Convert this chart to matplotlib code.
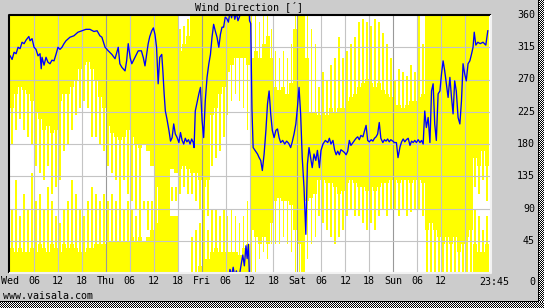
import numpy as np
import matplotlib
matplotlib.use("Agg")
import matplotlib.pyplot as plt
import matplotlib.transforms as mtransforms

# hourly direction range (clockwise from lo to hi, wraps through north when lo >= hi)
core_lo = [230, 250, 260, 255, 250, 240, 225, 215, 200, 205, 195, 200, 240, 250, 250, 260, 270, 285, 290, 295,
           285, 270, 245, 230, 205, 195, 190, 185, 190, 200, 190, 180, 175, 180, 170, 150, 120, 0, 0,
           0, 145, 140, 145, 150, 145, 140, 140, 130, 120, 130, 220, 230, 250, 260, 280, 290, 300, 300, 300, 290,
           60, 50, 40, 50, 40, 70, 100, 105, 100, 100, 95, 60, 40, 0, 100, 105, 110,
           130, 130, 125, 125, 120, 110, 115, 125, 130, 125, 120, 120, 115, 120, 115, 120, 125, 125, 130,
           130, 125, 130, 130, 125, 130, 130, 125, 60, 70, 60, 50, 40, 50, 40, 50, 30, 40, 50, 60, 160, 150, 170, 150]
core_hi = [35, 30, 35, 30, 30, 35, 30, 40, 35, 30, 40, 35, 30, 40, 35, 40, 35, 30, 30, 35,
           35, 40, 40, 40, 45, 45, 45, 45, 45, 45, 50, 45, 50, 45, 50, 60, 70, 360, 360,
           360, 80, 80, 310, 320, 330, 360, 360, 10, 20, 20, 30, 35, 30, 30, 30, 30, 30, 25, 35, 40,
           300, 310, 300, 320, 330, 300, 260, 255, 260, 250, 265, 340, 360, 360, 300, 225, 225,
           220, 225, 220, 230, 225, 230, 230, 240, 245, 250, 260, 265, 270, 265, 260, 265, 255, 250, 245,
           235, 235, 230, 235, 240, 240, 245, 250, 360, 360, 360, 360, 360, 360, 360, 360, 360, 360, 360, 360, 40, 30, 30, 40]
# widest gust excursions in the same hour
streak_lo = [180, 200, 215, 200, 190, 180, 150, 140, 130, 150, 110, 120, 130, 170, 180, 200, 220, 230, 240, 230,
             190, 190, 180, 170, 150, 140, 130, 120, 130, 110, 100, 90, 80, 90, 60, 60, 0, 0, 0,
             0, 100, 100, 110, 120, 110, 110, 100, 90, 80, 80, 150, 160, 170, 190, 220, 240, 250, 240, 230, 200,
             0, 0, 20, 30, 20, 40, 40, 40, 50, 40, 30, 0, 0, 0, 20, 40, 50,
             80, 70, 60, 50, 40, 50, 60, 80, 90, 80, 80, 70, 60, 70, 60, 80, 90, 80, 90,
             90, 80, 90, 80, 85, 90, 90, 80, 0, 0, 0, 0, 0, 0, 0, 0, 0, 0, 0, 0, 120, 110, 130, 100]
streak_hi = [90, 130, 80, 110, 90, 140, 100, 110, 90, 120, 100, 80, 70, 90, 100, 130, 110, 90, 80, 100,
             120, 110, 100, 110, 100, 110, 100, 120, 90, 100, 90, 80, 80, 100, 100, 100, 360, 360, 360,
             360, 120, 120, 340, 345, 355, 50, 60, 70, 80, 60, 90, 90, 80, 90, 80, 90, 80, 70, 80, 100,
             360, 360, 350, 360, 360, 340, 310, 300, 310, 300, 320, 360, 360, 360, 360, 340, 320,
             260, 280, 270, 290, 300, 330, 300, 310, 320, 330, 350, 355, 350, 345, 355, 350, 335, 320, 300,
             270, 285, 280, 275, 290, 280, 360, 320, 360, 360, 360, 360, 360, 360, 360, 360, 360, 360, 360, 360, 90, 80, 60, 80]

# mean direction (hours from Wed 00:00, degrees)
blue_t = [0, 0.5, 1, 1.5, 2, 2.5, 3, 3.5, 4, 4.7, 5, 5.5, 6, 6.5, 7, 7.5, 7.8, 8, 8.5, 9, 9.5, 10, 10.5, 11, 11.5,
          12, 12.5, 13, 13.5, 14, 15, 16, 17, 18, 19, 20, 21, 21.8, 22.5, 23, 23.8, 24.6, 25.5, 26.3, 27.1, 27.5,
          28, 28.8, 29.2, 29.6, 30.1, 30.5, 31.3, 32.1, 32.9, 33.4, 33.8, 34.2, 34.6, 35, 35.5, 35.9, 36.3, 36.7,
          37.1, 37.5, 38, 38.3, 38.6, 38.9, 39.3, 39.8, 40.2, 40.6, 41, 41.4, 41.85, 42.3, 42.7, 43.1, 43.5, 43.9,
          44.3, 44.7, 45.1, 45.5, 45.9, 46.1, 46.4, 46.85, 47.3, 47.7, 48.1, 48.5, 48.9, 49.35, 49.8, 50.2, 50.6,
          51, 51.4, 51.85, 52.3, 52.7, 53.1, 53.5, 53.9, 54.3, 54.7, 55.1, 55.5, 55.9, 56.3, 56.7, 57.1, 57.5,
          57.9, 58.3, 58.7, 59.1, 59.4, 59.7, 60.0, 60.3, 60.6, 60.9, 61.4, 62, 62.4, 62.8, 63.2, 63.65, 64.1,
          64.5, 64.9, 65.3, 65.7, 66.15, 66.6, 67, 67.4, 67.8, 68.3, 68.8, 69.3, 69.8, 70.3, 70.7, 71.15, 71.6,
          72, 72.4, 72.8, 73.2, 73.65, 74.1, 74.5, 74.9, 75.3, 75.7, 76.15, 76.6, 77, 77.5, 77.9, 78.4, 79, 79.6,
          80, 80.4, 80.9, 81.3, 81.7, 82.1, 82.5, 82.9, 83.4, 83.8, 84.2, 84.6, 85, 85.4, 85.9, 86.3, 86.7, 87.1,
          87.5, 87.9, 88.4, 88.7, 89.2, 89.6, 90, 90.5, 90.9, 91.3, 91.7, 92.1, 92.5, 92.9, 93.4, 93.8, 94.2,
          94.6, 95, 95.4, 95.9, 96.3, 96.8, 97.2, 97.7, 98.1, 98.5, 98.9, 99.3, 99.75, 100.2, 100.6, 101, 101.4,
          101.8, 102.25, 102.7, 103.1, 103.5, 103.9, 104.3, 104.75, 105.2, 105.6, 106, 106.4, 106.8, 107.25,
          107.7, 108.1, 108.5, 108.9, 109.3, 109.75, 110.2, 110.6, 111, 111.4, 111.8, 112.25, 112.7, 113.1,
          113.5, 113.9, 114.3, 114.75, 115.2, 115.6, 116, 116.3, 116.7, 117.2, 117.8, 118.5, 119.2, 119.7]
blue_dir = [303, 298, 308, 306, 315, 313, 322, 320, 325, 330, 324, 327, 315, 312, 303, 306, 285, 301, 290, 301, 294,
            292, 297, 296, 305, 315, 312, 315, 320, 324, 329, 331, 336, 338, 340, 340, 337, 338, 331, 329, 315,
            310, 305, 299, 315, 292, 287, 282, 296, 320, 300, 292, 301, 310, 310, 300, 289, 305, 320, 330, 338,
            342, 333, 315, 264, 301, 305, 280, 250, 226, 215, 199, 184, 189, 208, 194, 189, 182, 196, 185, 180,
            188, 183, 186, 180, 187, 182, 175, 226, 238, 250, 259, 213, 189, 240, 273, 292, 305, 329, 347, 338,
            329, 315, 333, 343, 343, 357, 355, 350, 5, 356, 8, 354, 3, 352, 358, 12, 25, 10, 38, 20, 40, 352,
            348, 229, 175, 171, 166, 161, 157, 143, 166, 199, 236, 254, 222, 199, 189, 199, 201, 189, 182, 185,
            180, 184, 181, 175, 183, 194, 208, 231, 259, 222, 161, 119, 54, 152, 175, 161, 147, 166, 157, 171,
            147, 171, 180, 185, 182, 188, 180, 185, 172, 165, 170, 165, 172, 170, 168, 165, 170, 185, 178, 182,
            185, 188, 190, 186, 192, 190, 196, 206, 185, 183, 186, 184, 188, 190, 194, 210, 188, 182, 186, 184,
            187, 183, 186, 184, 182, 182, 161, 176, 183, 187, 183, 186, 188, 178, 184, 182, 185, 182, 186, 182,
            185, 180, 226, 203, 217, 182, 254, 264, 208, 185, 250, 254, 278, 296, 282, 264, 245, 273, 245, 222,
            268, 254, 217, 208, 240, 292, 278, 268, 292, 296, 305, 315, 336, 318, 322, 320, 322, 318, 338]

tick_hours = list(range(0, 109, 6))
tick_labels = ["Wed", "06", "12", "18", "Thu", "06", "12", "18", "Fri", "06", "12", "18",
               "Sat", "06", "12", "18", "Sun", "06", "12"]
dir_ticks = [0, 45, 90, 135, 180, 225, 270, 315, 360]

plt.rcParams["font.family"] = "DejaVu Sans Mono"
plt.rcParams["font.size"] = 7.2

W, H = 544, 308
fig = plt.figure(figsize=(W / 100, H / 100), dpi=100, facecolor="#cccccc")
ax = fig.add_axes([8.5 / W, 1 - 273 / H, (491 - 8.5) / W, (273 - 15) / H])
ax.set_facecolor("white")


def segments(lo, hi):
    if lo < hi:
        return [(lo, hi)]
    return [(lo, 360), (0, hi)]


def range_bars(lo_list, hi_list, offset, width):
    xs, bots, hts = [], [], []
    for h, (lo, hi) in enumerate(zip(lo_list, hi_list)):
        for a, b in segments(lo, hi):
            xs.append(h + offset)
            bots.append(a)
            hts.append(b - a)
    ax.bar(xs, hts, bottom=bots, width=width, align="center", color="#ffff00",
           linewidth=0, antialiased=False, zorder=1)


range_bars(core_lo, core_hi, 0.5, 1.0)
range_bars(streak_lo, streak_hi, 0.5, 0.45)

# grid: 6 h lines, darker at midnight
for h in range(6, 120, 6):
    col = "#999999" if h % 24 == 0 else "#c4c4c4"
    ax.axvline(h, color=col, lw=0.8, zorder=2)
for d in dir_ticks[1:-1]:
    ax.axhline(d, color="#c4c4c4", lw=0.8, zorder=2)

# mean direction, wrapped at north
t = np.array(blue_t)
d = np.unwrap(np.array(blue_dir, dtype=float), period=360)
for k in (-360, 0, 360):
    ax.plot(t, d + k, color="#0000ff", lw=0.95, zorder=3)

ax.set_xlim(-0.4, 120.5)
ax.set_ylim(0, 360)
ax.set_xticks(tick_hours)
ax.set_xticklabels(tick_labels)
ax.set_yticks([])
ax.tick_params(axis="x", length=0, pad=2.2, colors="black")
ax.text(121.2, -2.0, "23:45", ha="center", va="top", clip_on=False,
        transform=ax.transData + mtransforms.ScaledTranslation(0, -2.2 / 72, fig.dpi_scale_trans))

# inset frame: dark top/left, light bottom/right
for s in ax.spines.values():
    s.set_visible(False)
ax.plot([0, 0, 1], [0, 1, 1], transform=ax.transAxes, color="black", lw=1.5,
        clip_on=False, zorder=4, solid_capstyle="butt")
ax.plot([0, 1, 1], [0, 0, 1], transform=ax.transAxes, color="#f2f2f2", lw=1.5,
        clip_on=False, zorder=4, solid_capstyle="butt")

lab_tr = mtransforms.blended_transform_factory(fig.transFigure, ax.transData)
for v in dir_ticks:
    tr = lab_tr
    if v == 0:
        tr = lab_tr + mtransforms.ScaledTranslation(0, -0.09, fig.dpi_scale_trans)
    fig.text(535 / W, v, str(v), ha="right", va="center", transform=tr)

fig.text(249 / W, 1 - 7 / H, "Wind Direction [\u00b4]", ha="center", va="center")
fig.text(3 / W, 1 - 296 / H, "www.vaisala.com", ha="left", va="center")

# frame edge and dithered shadow
checker_r = (np.indices((H, 5)).sum(axis=0) % 2 * 255).astype(np.uint8)
checker_b = (np.indices((6, W)).sum(axis=0) % 2 * 255).astype(np.uint8)
fig.figimage(np.dstack([checker_r] * 3), xo=539, yo=0)
fig.figimage(np.dstack([checker_b] * 3), xo=0, yo=0)
fig.figimage(np.zeros((H - 6, 1, 3), dtype=np.uint8), xo=538, yo=6)
fig.figimage(np.zeros((1, 539, 3), dtype=np.uint8), xo=0, yo=6)

fig.savefig("out.png", dpi=100, facecolor=fig.get_facecolor())
